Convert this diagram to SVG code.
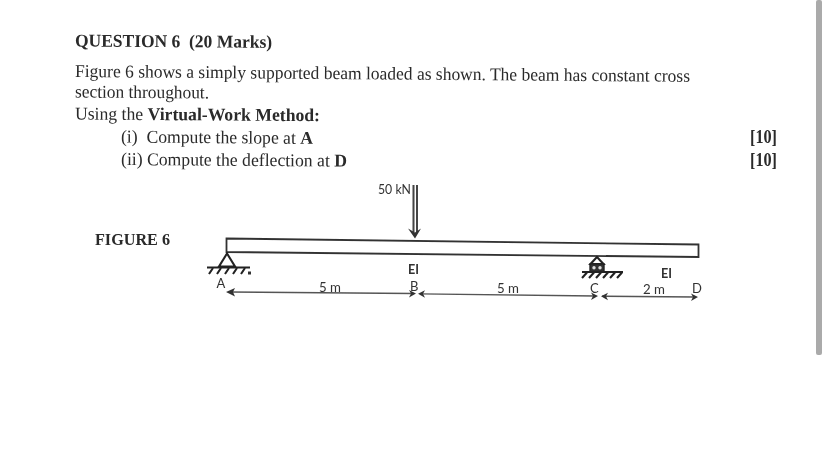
<svg xmlns="http://www.w3.org/2000/svg" width="828" height="471" viewBox="0 0 828 471">
<style>
.s{font-family:"Liberation Serif","Times New Roman",serif;font-size:18px;fill:#2a2a2a}
.b{font-weight:700}
.a{font-family:Lato,"Liberation Sans",Arial,sans-serif;font-size:13px;fill:#333}
.l{fill:none;stroke:#333;stroke-width:1.8}
.h{fill:none;stroke:#222;stroke-width:2.1}
.d{fill:none;stroke:#555;stroke-width:1.3}
.f{fill:#333}
</style>
<defs>
<filter id="soft" x="-5%" y="-5%" width="110%" height="110%"><feGaussianBlur stdDeviation="0.35"/></filter>
</defs>
<rect width="828" height="471" fill="#fff"/>
<rect id="scrollbar" x="816" y="0" width="6" height="355" rx="2" fill="#aaa"/>
<g filter="url(#soft)">
<g id="question-text">
<text class="s b" x="75" y="46.500" textLength="197" lengthAdjust="spacingAndGlyphs" transform="rotate(0.4 75 46.500)" xml:space="preserve">QUESTION 6  (20 Marks)</text>
<text class="s" x="75" y="77" textLength="615" lengthAdjust="spacingAndGlyphs" transform="rotate(0.45 75 77)">Figure 6 shows a simply supported beam loaded as shown. The beam has constant cross</text>
<text class="s" x="75" y="97.500" textLength="134" lengthAdjust="spacingAndGlyphs" transform="rotate(0.4 75 97.500)">section throughout.</text>
<text class="s" x="75" y="119.500" textLength="245" lengthAdjust="spacingAndGlyphs" transform="rotate(0.4 75 119.500)">Using the <tspan class="b">Virtual-Work Method:</tspan></text>
<text class="s" x="121" y="142.500" textLength="192" lengthAdjust="spacingAndGlyphs" transform="rotate(0.4 121 142.500)" xml:space="preserve">(i)  Compute the slope at <tspan class="b">A</tspan></text>
<text class="s" x="121" y="165" textLength="226" lengthAdjust="spacingAndGlyphs" transform="rotate(0.4 121 165)">(ii) Compute the deflection at <tspan class="b">D</tspan></text>
<text class="s b" x="750" y="143" textLength="27" lengthAdjust="spacingAndGlyphs">[10]</text>
<text class="s b" x="750" y="166" textLength="27" lengthAdjust="spacingAndGlyphs">[10]</text>
<text class="s b" x="95" y="245" style="font-size:16px" textLength="75" lengthAdjust="spacingAndGlyphs">FIGURE 6</text>
</g>
<g id="beam">
<path class="l" d="M226.500 238.500 L698.500 244.500 L698.500 257 L226.500 252 Z"/>
</g>
<g id="support-A">
<path class="h" d="M227 253.500 L219 266.500 L235 266.500 Z"/>
<path class="h" d="M207 267.500 H250"/>
<path class="h" d="M213 268 L209 274 M221 268 L217 274 M229 268 L225 274 M237 268 L233 274 M245 268 L241 274"/>
<path class="f" d="M248 271.500 h3 v3 h-3 Z"/>
</g>
<g id="support-C">
<path class="h" d="M597 257 L590.500 264 L603.500 264 Z"/>
<rect x="590" y="264" width="14" height="7.500" fill="#333" stroke="#222" stroke-width="1.4"/>
<circle cx="594" cy="267.800" r="1.700" fill="#ddd"/>
<circle cx="600" cy="267.800" r="1.700" fill="#ddd"/>
<path class="h" d="M582 272 H623"/>
<path class="h" d="M587 272.500 L582 278 M594 272.500 L589 278 M601 272.500 L596 278 M608 272.500 L603 278 M615 272.500 L610 278 M622 272.500 L617 278"/>
</g>
<g id="connectors">
<path fill="none" stroke="#444" stroke-width="2" d="M413.500 185 V232 M417 185 V232"/>
<path class="f" d="M408 228.500 L415 232.500 L421 228.500 L415 238.500 Z"/>
<path class="d" d="M230 292 L413 293.500 M420 293.800 L595 296 M602 296.200 L695 297"/>
<path class="f" d="M226 292 L235 288 L233 292 L235 296.500 Z"/>
<path class="f" d="M416 293.500 L409 290 L411 293.500 L409 297.500 Z"/>
<path class="f" d="M418 293.700 L425 290.300 L423 293.700 L425 297.800 Z"/>
<path class="f" d="M598 296 L591 292.500 L593 296 L591 300 Z"/>
<path class="f" d="M601 296.200 L608 292.800 L606 296.200 L608 300.300 Z"/>
<path class="f" d="M698 297 L691 293.500 L693 297 L691 301 Z"/>
</g>
<g id="labels">
<text class="a" x="378" y="194" textLength="33" lengthAdjust="spacingAndGlyphs">50 kN</text>
<text class="a b" x="408" y="274" textLength="11" lengthAdjust="spacingAndGlyphs">EI</text>
<text class="a b" x="661" y="278" textLength="11" lengthAdjust="spacingAndGlyphs">EI</text>
<text class="a" x="216.500" y="288">A</text>
<text class="a" x="319" y="292" textLength="22" lengthAdjust="spacingAndGlyphs">5 m</text>
<text class="a" x="410" y="291">B</text>
<text class="a" x="497" y="293" textLength="22" lengthAdjust="spacingAndGlyphs">5 m</text>
<text class="a" x="590" y="293">C</text>
<text class="a" x="643" y="294" textLength="22" lengthAdjust="spacingAndGlyphs">2 m</text>
<text class="a" x="692" y="293">D</text>
</g>
</g>
</svg>
